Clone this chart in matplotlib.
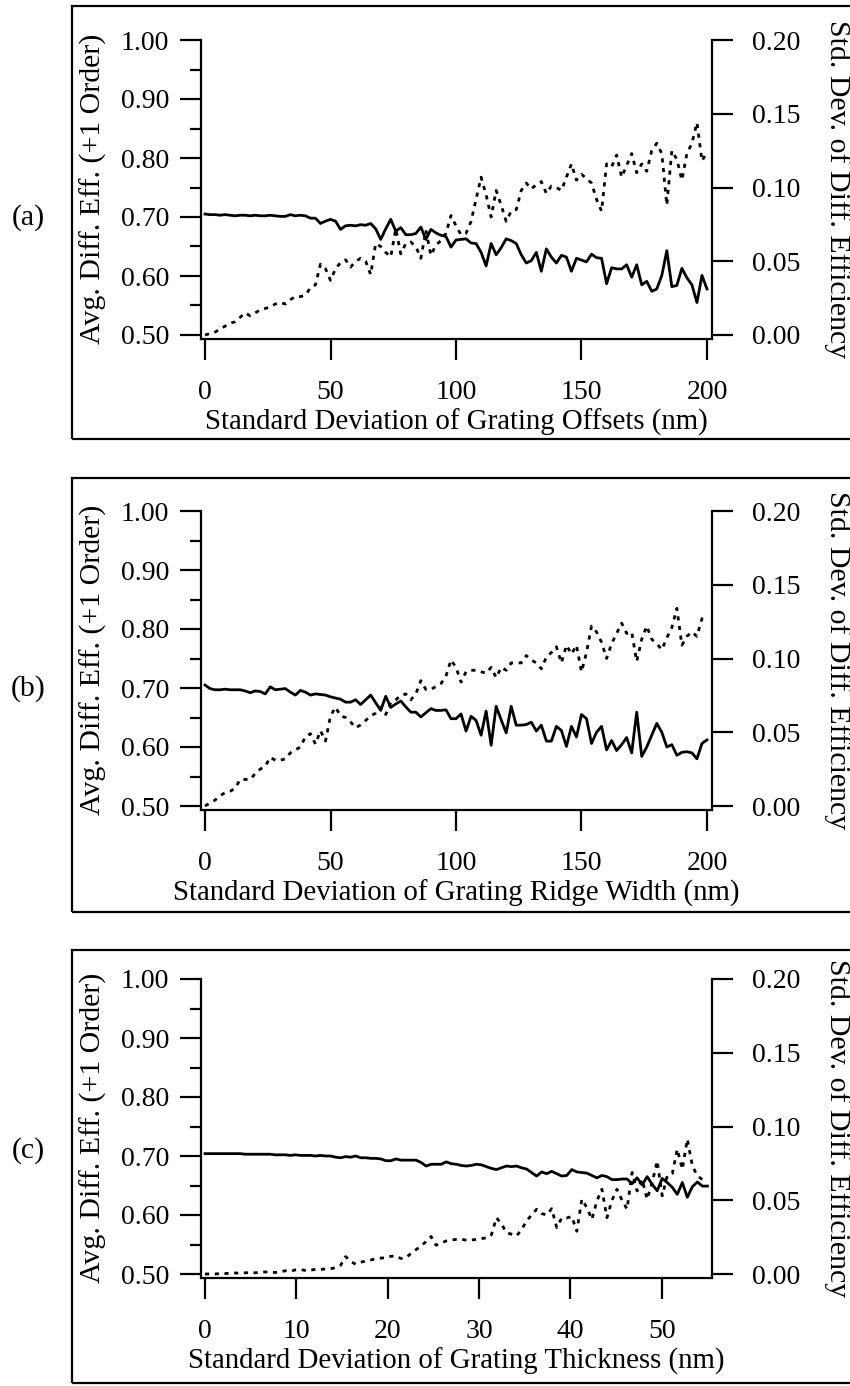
import numpy as np
import matplotlib
matplotlib.use("Agg")
import matplotlib.pyplot as plt
from matplotlib.patches import Rectangle
from matplotlib.ticker import FormatStrFormatter

plt.rcParams["font.family"] = ["Liberation Serif", "DejaVu Serif"]

# ---------------- data ----------------
# (a) random grating offsets, 0-200 nm in 2 nm steps
offset_nm = np.arange(0, 201, 2)
offset_mean = [
    0.705, 0.704, 0.704, 0.703, 0.704, 0.703, 0.702, 0.703, 0.703, 0.702,
    0.703, 0.702, 0.702, 0.703, 0.702, 0.701, 0.701, 0.704, 0.702, 0.703,
    0.702, 0.698, 0.698, 0.689, 0.693, 0.696, 0.693, 0.679, 0.685, 0.686,
    0.685, 0.687, 0.686, 0.689, 0.680, 0.662, 0.680, 0.696, 0.676, 0.682,
    0.670, 0.670, 0.672, 0.683, 0.662, 0.679, 0.673, 0.669, 0.667, 0.649,
    0.661, 0.662, 0.663, 0.656, 0.655, 0.640, 0.617, 0.655, 0.636, 0.648,
    0.663, 0.660, 0.655, 0.636, 0.622, 0.626, 0.640, 0.608, 0.646, 0.632,
    0.622, 0.635, 0.632, 0.608, 0.630, 0.627, 0.624, 0.637, 0.631, 0.630,
    0.587, 0.614, 0.612, 0.612, 0.619, 0.598, 0.619, 0.585, 0.591, 0.574,
    0.578, 0.601, 0.643, 0.582, 0.584, 0.613, 0.597, 0.585, 0.555, 0.601,
    0.578,
]
offset_std = [
    0.000, 0.001, 0.002, 0.004, 0.006, 0.008, 0.009, 0.012, 0.015, 0.013,
    0.015, 0.017, 0.018, 0.019, 0.021, 0.022, 0.021, 0.024, 0.026, 0.026,
    0.027, 0.032, 0.034, 0.048, 0.045, 0.037, 0.045, 0.049, 0.051, 0.046,
    0.050, 0.052, 0.050, 0.041, 0.062, 0.060, 0.056, 0.053, 0.072, 0.055,
    0.062, 0.063, 0.060, 0.052, 0.071, 0.054, 0.061, 0.064, 0.069, 0.081,
    0.074, 0.068, 0.069, 0.077, 0.092, 0.107, 0.095, 0.080, 0.098, 0.088,
    0.077, 0.084, 0.085, 0.098, 0.103, 0.099, 0.102, 0.104, 0.096, 0.101,
    0.100, 0.098, 0.107, 0.116, 0.105, 0.109, 0.106, 0.103, 0.092, 0.084,
    0.116, 0.114, 0.122, 0.107, 0.115, 0.123, 0.110, 0.116, 0.111, 0.125,
    0.130, 0.123, 0.088, 0.125, 0.119, 0.105, 0.123, 0.130, 0.144, 0.118,
    0.124,
]

# (b) random ridge width, 0-200 nm in 2 nm steps
ridge_nm = np.arange(0, 201, 2)
ridge_mean = [
    0.705, 0.699, 0.697, 0.697, 0.698, 0.697, 0.697, 0.697, 0.695, 0.692,
    0.695, 0.694, 0.690, 0.702, 0.697, 0.698, 0.699, 0.693, 0.688, 0.696,
    0.693, 0.688, 0.690, 0.689, 0.688, 0.685, 0.683, 0.681, 0.676, 0.676,
    0.680, 0.672, 0.680, 0.688, 0.675, 0.662, 0.686, 0.667, 0.673, 0.678,
    0.668, 0.659, 0.659, 0.651, 0.658, 0.665, 0.662, 0.662, 0.663, 0.648,
    0.648, 0.656, 0.627, 0.652, 0.645, 0.620, 0.661, 0.603, 0.669, 0.646,
    0.624, 0.669, 0.637, 0.637, 0.638, 0.642, 0.627, 0.637, 0.610, 0.610,
    0.635, 0.628, 0.601, 0.635, 0.617, 0.655, 0.648, 0.606, 0.625, 0.635,
    0.595, 0.611, 0.594, 0.604, 0.616, 0.590, 0.659, 0.584, 0.600, 0.620,
    0.640, 0.625, 0.600, 0.604, 0.586, 0.591, 0.592, 0.590, 0.580, 0.606,
    0.612,
]
ridge_std = [
    0.000, 0.002, 0.004, 0.007, 0.009, 0.010, 0.012, 0.018, 0.018, 0.018,
    0.022, 0.025, 0.027, 0.033, 0.031, 0.031, 0.032, 0.036, 0.038, 0.040,
    0.047, 0.049, 0.042, 0.051, 0.044, 0.061, 0.067, 0.061, 0.060, 0.057,
    0.053, 0.055, 0.058, 0.061, 0.063, 0.067, 0.062, 0.070, 0.072, 0.075,
    0.076, 0.072, 0.076, 0.085, 0.079, 0.079, 0.081, 0.083, 0.088, 0.099,
    0.094, 0.084, 0.091, 0.092, 0.092, 0.091, 0.090, 0.094, 0.087, 0.094,
    0.092, 0.097, 0.097, 0.097, 0.102, 0.099, 0.097, 0.093, 0.101, 0.104,
    0.108, 0.097, 0.109, 0.103, 0.109, 0.091, 0.104, 0.122, 0.118, 0.111,
    0.100, 0.110, 0.117, 0.124, 0.117, 0.118, 0.098, 0.113, 0.122, 0.113,
    0.110, 0.106, 0.114, 0.121, 0.134, 0.109, 0.115, 0.118, 0.115, 0.127,
    0.130,
]

# (c) random grating thickness, 0-55 nm in 0.55 nm steps
thick_nm = np.arange(101) * 0.55
thick_mean = [
    0.704, 0.704, 0.704, 0.704, 0.704, 0.704, 0.704, 0.704, 0.703, 0.703,
    0.703, 0.703, 0.703, 0.703, 0.702, 0.702, 0.702, 0.701, 0.702, 0.701,
    0.701, 0.701, 0.700, 0.701, 0.700, 0.700, 0.698, 0.697, 0.699, 0.698,
    0.700, 0.697, 0.697, 0.696, 0.696, 0.695, 0.692, 0.692, 0.695, 0.693,
    0.693, 0.693, 0.693, 0.689, 0.683, 0.686, 0.686, 0.686, 0.690, 0.687,
    0.686, 0.684, 0.683, 0.684, 0.686, 0.685, 0.682, 0.679, 0.677, 0.680,
    0.683, 0.682, 0.683, 0.680, 0.678, 0.672, 0.666, 0.673, 0.670, 0.674,
    0.670, 0.666, 0.667, 0.677, 0.673, 0.672, 0.671, 0.667, 0.663, 0.667,
    0.665, 0.660, 0.660, 0.661, 0.661, 0.653, 0.663, 0.651, 0.665, 0.652,
    0.641, 0.662, 0.655, 0.647, 0.635, 0.655, 0.630, 0.648, 0.656, 0.649,
    0.649,
]
thick_std = [
    0.0000, 0.0000, 0.0000, 0.0003, 0.0003, 0.0005, 0.0007, 0.0005, 0.0008, 0.0010,
    0.0008, 0.0012, 0.0014, 0.0012, 0.0010, 0.0015, 0.0022, 0.0018, 0.0028, 0.0030,
    0.0024, 0.0026, 0.0032, 0.0030, 0.0035, 0.0036, 0.0043, 0.0060, 0.0118, 0.0085,
    0.0066, 0.0080, 0.0088, 0.0095, 0.0104, 0.0108, 0.0110, 0.0120, 0.0122, 0.0105,
    0.0110, 0.0140, 0.0165, 0.0190, 0.0220, 0.0254, 0.0195, 0.0210, 0.0224, 0.0230,
    0.0235, 0.0235, 0.0230, 0.0230, 0.0235, 0.0240, 0.0245, 0.0265, 0.0382, 0.0340,
    0.0280, 0.0270, 0.0258, 0.0300, 0.0360, 0.0400, 0.0439, 0.0410, 0.0400, 0.0443,
    0.0315, 0.0380, 0.0380, 0.0390, 0.0290, 0.0507, 0.0450, 0.0370, 0.0496, 0.0575,
    0.0382, 0.0500, 0.0575, 0.0500, 0.0440, 0.0688, 0.0563, 0.0640, 0.0507, 0.0620,
    0.0767, 0.0530, 0.0665, 0.0680, 0.0846, 0.0710, 0.0914, 0.0733, 0.0665, 0.0640,
    0.0630,
]

panel_tags = ["(a)", "(b)", "(c)"]
x_titles = [
    "Standard Deviation of Grating Offsets (nm)",
    "Standard Deviation of Grating Ridge Width (nm)",
    "Standard Deviation of Grating Thickness (nm)",
]
x_tick_sets = [[0, 50, 100, 150, 200], [0, 50, 100, 150, 200],
               [0, 10, 20, 30, 40, 50]]
x_limits = [(-1.6, 202.0), (-1.6, 202.0), (-0.44, 55.5)]
left_title = "Avg. Diff. Eff. (+1 Order)"
right_title = "Std. Dev. of Diff. Efficiency"

series = [
    (offset_nm, offset_mean, offset_std),
    (ridge_nm, ridge_mean, ridge_std),
    (thick_nm, thick_mean, thick_std),
]

# ---------------- layout (pixel geometry) ----------------
W, H = 850, 1386
fig = plt.figure(figsize=(W / 100, H / 100), dpi=100)

ax_left, ax_right = 201, 712
ax_tops = [40, 511, 979]          # y of the 1.00 tick
span = 295                         # px between 1.00 and 0.50
frames = [(6, 439), (478, 912), (950, 1383)]
tag_y = [218, 689, 1151]

FS_TICK = 20
FS_YLABEL = 21.5
FS_XLABEL = 20.8
ymin_left = 0.494
ymin_right = (ymin_left - 0.5) * 0.4


def fx(px):
    return px / W


def fy(py):
    return 1 - py / H


for k in range(3):
    top = ax_tops[k]
    bottom = top + span * (1.0 - ymin_left) / 0.5
    ax = fig.add_axes([fx(ax_left), fy(bottom), (ax_right - ax_left) / W,
                       (bottom - top) / H])
    x, m, s = series[k]

    ax.plot(x, m, color="black", lw=2.0, zorder=3)
    ax.set_xlim(*x_limits[k])
    ax.set_ylim(ymin_left, 1.0)

    ax2 = ax.twinx()
    ax2.plot(x, s, color="black", lw=2.0, linestyle=(0, (1.5, 2.0)), zorder=3)
    ax2.set_ylim(ymin_right, 0.20)

    for sp in ("top", "right"):
        ax.spines[sp].set_visible(False)
    for sp in ("top", "left", "bottom"):
        ax2.spines[sp].set_visible(False)
    for sp in ("left", "bottom"):
        ax.spines[sp].set_linewidth(1.6)
    ax2.spines["right"].set_linewidth(1.6)

    ax.set_xticks(x_tick_sets[k])
    ax.tick_params(axis="x", direction="out", length=15, width=1.6, pad=15,
                   labelsize=FS_TICK)

    ax.set_yticks(np.round(np.arange(0.5, 1.001, 0.1), 2))
    ax.set_yticks(np.round(np.arange(0.55, 1.0, 0.1), 2), minor=True)
    ax.yaxis.set_major_formatter(FormatStrFormatter("%.2f"))
    ax.tick_params(axis="y", which="major", direction="out", length=15,
                   width=1.6, pad=8, labelsize=FS_TICK)
    ax.tick_params(axis="y", which="minor", direction="out", length=8,
                   width=1.6)

    ax2.set_yticks(np.round(np.arange(0.0, 0.2001, 0.05), 2))
    ax2.yaxis.set_major_formatter(FormatStrFormatter("%.2f"))
    ax2.tick_params(axis="y", direction="out", length=15, width=1.6, pad=14,
                    labelsize=FS_TICK)

    # axis titles
    mid_y = (top + bottom) / 2
    fig.text(fx(93), fy(mid_y), left_title, rotation=90, ha="center",
             va="center", fontsize=FS_YLABEL)
    fig.text(fx(837), fy(mid_y), right_title, rotation=270, ha="center",
             va="center", fontsize=FS_YLABEL)
    fig.text(fx((ax_left + ax_right) / 2), fy(bottom + 84), x_titles[k],
             ha="center", va="center", fontsize=FS_XLABEL)

    # panel tag
    fig.text(fx(28), fy(tag_y[k]), panel_tags[k], ha="center", va="center",
             fontsize=FS_YLABEL)

    # enclosing frame
    ftop, fbot = frames[k]
    fig.add_artist(Rectangle((fx(72), fy(fbot)), 1.05, (fbot - ftop) / H,
                             transform=fig.transFigure, fill=False,
                             edgecolor="black", lw=1.6, clip_on=False))

fig.savefig("out.png", dpi=100, facecolor="white")
